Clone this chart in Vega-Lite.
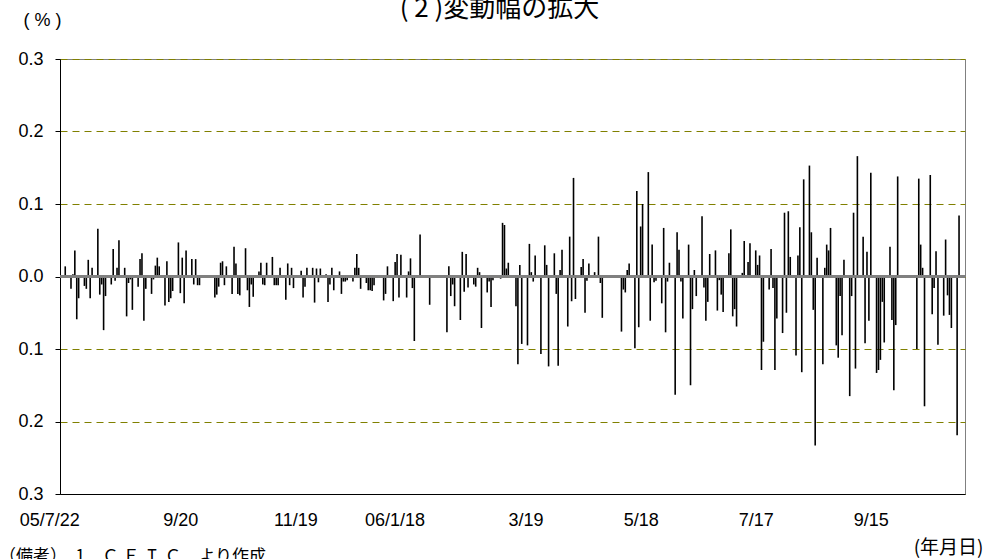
{
  "$schema": "https://vega.github.io/schema/vega-lite/v6.json",
  "width": 905,
  "height": 435,
  "autosize": {"type": "none"},
  "padding": {"left": 60, "top": 59, "right": 26, "bottom": 65},
  "background": "white",
  "config": {
    "view": {"stroke": "#808080", "strokeWidth": 1},
    "font": "Liberation Sans"
  },
  "title": {
    "text": "( 2 )変動幅の拡大",
    "font": "Noto Sans CJK JP",
    "fontSize": 26,
    "fontWeight": "normal",
    "color": "black",
    "anchor": "middle",
    "offset": -11,
    "dx": -13
  },
  "data": {
    "values": [
      {"date": "2005-07-22", "value": 0.014},
      {"date": "2005-07-25", "value": -0.017},
      {"date": "2005-07-26", "value": 0.003},
      {"date": "2005-07-27", "value": 0.036},
      {"date": "2005-07-28", "value": -0.059},
      {"date": "2005-07-29", "value": -0.030},
      {"date": "2005-08-01", "value": -0.013},
      {"date": "2005-08-02", "value": -0.017},
      {"date": "2005-08-03", "value": 0.023},
      {"date": "2005-08-04", "value": -0.030},
      {"date": "2005-08-05", "value": 0.012},
      {"date": "2005-08-08", "value": 0.066},
      {"date": "2005-08-09", "value": -0.025},
      {"date": "2005-08-10", "value": -0.011},
      {"date": "2005-08-11", "value": -0.074},
      {"date": "2005-08-12", "value": -0.027},
      {"date": "2005-08-15", "value": -0.011},
      {"date": "2005-08-16", "value": 0.038},
      {"date": "2005-08-17", "value": -0.006},
      {"date": "2005-08-18", "value": 0.012},
      {"date": "2005-08-19", "value": 0.050},
      {"date": "2005-08-22", "value": 0.012},
      {"date": "2005-08-23", "value": -0.055},
      {"date": "2005-08-24", "value": -0.009},
      {"date": "2005-08-25", "value": -0.004},
      {"date": "2005-08-26", "value": -0.046},
      {"date": "2005-08-29", "value": -0.014},
      {"date": "2005-08-30", "value": 0.024},
      {"date": "2005-08-31", "value": 0.032},
      {"date": "2005-09-01", "value": -0.061},
      {"date": "2005-09-02", "value": -0.017},
      {"date": "2005-09-05", "value": -0.024},
      {"date": "2005-09-06", "value": -0.004},
      {"date": "2005-09-07", "value": 0.015},
      {"date": "2005-09-08", "value": 0.026},
      {"date": "2005-09-09", "value": 0.014},
      {"date": "2005-09-12", "value": -0.040},
      {"date": "2005-09-13", "value": 0.021},
      {"date": "2005-09-14", "value": -0.035},
      {"date": "2005-09-15", "value": -0.030},
      {"date": "2005-09-16", "value": -0.020},
      {"date": "2005-09-19", "value": 0.047},
      {"date": "2005-09-20", "value": -0.023},
      {"date": "2005-09-21", "value": 0.026},
      {"date": "2005-09-22", "value": -0.037},
      {"date": "2005-09-23", "value": 0.036},
      {"date": "2005-09-26", "value": 0.024},
      {"date": "2005-09-27", "value": -0.011},
      {"date": "2005-09-28", "value": 0.024},
      {"date": "2005-09-29", "value": -0.012},
      {"date": "2005-09-30", "value": -0.012},
      {"date": "2005-10-08", "value": -0.029},
      {"date": "2005-10-09", "value": -0.025},
      {"date": "2005-10-10", "value": -0.014},
      {"date": "2005-10-11", "value": 0.019},
      {"date": "2005-10-12", "value": 0.021},
      {"date": "2005-10-13", "value": -0.012},
      {"date": "2005-10-14", "value": 0.014},
      {"date": "2005-10-17", "value": -0.024},
      {"date": "2005-10-18", "value": 0.041},
      {"date": "2005-10-19", "value": 0.018},
      {"date": "2005-10-20", "value": -0.024},
      {"date": "2005-10-21", "value": -0.026},
      {"date": "2005-10-24", "value": 0.039},
      {"date": "2005-10-25", "value": -0.019},
      {"date": "2005-10-26", "value": -0.042},
      {"date": "2005-10-27", "value": -0.011},
      {"date": "2005-10-28", "value": -0.028},
      {"date": "2005-10-31", "value": 0.007},
      {"date": "2005-11-01", "value": 0.019},
      {"date": "2005-11-02", "value": -0.011},
      {"date": "2005-11-03", "value": -0.012},
      {"date": "2005-11-04", "value": 0.019},
      {"date": "2005-11-07", "value": 0.027},
      {"date": "2005-11-08", "value": -0.012},
      {"date": "2005-11-09", "value": -0.012},
      {"date": "2005-11-10", "value": -0.012},
      {"date": "2005-11-11", "value": 0.012},
      {"date": "2005-11-14", "value": -0.032},
      {"date": "2005-11-15", "value": 0.018},
      {"date": "2005-11-16", "value": -0.012},
      {"date": "2005-11-17", "value": 0.012},
      {"date": "2005-11-18", "value": -0.016},
      {"date": "2005-11-21", "value": 0.001},
      {"date": "2005-11-22", "value": 0.008},
      {"date": "2005-11-23", "value": -0.029},
      {"date": "2005-11-24", "value": -0.014},
      {"date": "2005-11-25", "value": 0.012},
      {"date": "2005-11-28", "value": 0.012},
      {"date": "2005-11-29", "value": -0.036},
      {"date": "2005-11-30", "value": 0.011},
      {"date": "2005-12-01", "value": -0.008},
      {"date": "2005-12-02", "value": 0.011},
      {"date": "2005-12-05", "value": 0.003},
      {"date": "2005-12-06", "value": -0.035},
      {"date": "2005-12-07", "value": -0.011},
      {"date": "2005-12-08", "value": 0.012},
      {"date": "2005-12-09", "value": -0.019},
      {"date": "2005-12-12", "value": 0.007},
      {"date": "2005-12-13", "value": -0.024},
      {"date": "2005-12-14", "value": -0.007},
      {"date": "2005-12-15", "value": -0.007},
      {"date": "2005-12-16", "value": -0.005},
      {"date": "2005-12-19", "value": -0.007},
      {"date": "2005-12-20", "value": 0.012},
      {"date": "2005-12-21", "value": 0.031},
      {"date": "2005-12-22", "value": 0.012},
      {"date": "2005-12-23", "value": -0.017},
      {"date": "2005-12-26", "value": -0.009},
      {"date": "2005-12-27", "value": -0.019},
      {"date": "2005-12-28", "value": -0.019},
      {"date": "2005-12-29", "value": -0.020},
      {"date": "2005-12-30", "value": -0.012},
      {"date": "2006-01-04", "value": -0.033},
      {"date": "2006-01-05", "value": -0.024},
      {"date": "2006-01-06", "value": 0.014},
      {"date": "2006-01-09", "value": -0.034},
      {"date": "2006-01-10", "value": 0.020},
      {"date": "2006-01-11", "value": 0.031},
      {"date": "2006-01-12", "value": -0.029},
      {"date": "2006-01-13", "value": 0.030},
      {"date": "2006-01-16", "value": -0.029},
      {"date": "2006-01-17", "value": 0.007},
      {"date": "2006-01-18", "value": 0.025},
      {"date": "2006-01-19", "value": -0.016},
      {"date": "2006-01-20", "value": -0.089},
      {"date": "2006-01-23", "value": 0.058},
      {"date": "2006-01-28", "value": -0.039},
      {"date": "2006-02-06", "value": -0.077},
      {"date": "2006-02-07", "value": 0.014},
      {"date": "2006-02-08", "value": -0.027},
      {"date": "2006-02-09", "value": -0.011},
      {"date": "2006-02-10", "value": -0.041},
      {"date": "2006-02-13", "value": -0.060},
      {"date": "2006-02-14", "value": 0.034},
      {"date": "2006-02-15", "value": -0.021},
      {"date": "2006-02-16", "value": 0.031},
      {"date": "2006-02-17", "value": -0.015},
      {"date": "2006-02-20", "value": -0.011},
      {"date": "2006-02-21", "value": -0.014},
      {"date": "2006-02-22", "value": 0.012},
      {"date": "2006-02-23", "value": 0.006},
      {"date": "2006-02-24", "value": -0.071},
      {"date": "2006-02-27", "value": -0.022},
      {"date": "2006-02-28", "value": -0.007},
      {"date": "2006-03-01", "value": -0.042},
      {"date": "2006-03-02", "value": -0.005},
      {"date": "2006-03-03", "value": 0.001},
      {"date": "2006-03-06", "value": -0.003},
      {"date": "2006-03-07", "value": 0.074},
      {"date": "2006-03-08", "value": 0.071},
      {"date": "2006-03-09", "value": 0.011},
      {"date": "2006-03-10", "value": 0.019},
      {"date": "2006-03-14", "value": -0.041},
      {"date": "2006-03-15", "value": -0.121},
      {"date": "2006-03-16", "value": 0.016},
      {"date": "2006-03-17", "value": -0.093},
      {"date": "2006-03-20", "value": -0.095},
      {"date": "2006-03-21", "value": 0.045},
      {"date": "2006-03-22", "value": 0.006},
      {"date": "2006-03-23", "value": -0.007},
      {"date": "2006-03-24", "value": 0.029},
      {"date": "2006-03-27", "value": -0.107},
      {"date": "2006-03-29", "value": 0.043},
      {"date": "2006-03-30", "value": 0.016},
      {"date": "2006-03-31", "value": -0.124},
      {"date": "2006-04-03", "value": 0.032},
      {"date": "2006-04-04", "value": -0.024},
      {"date": "2006-04-05", "value": -0.123},
      {"date": "2006-04-06", "value": 0.009},
      {"date": "2006-04-07", "value": 0.037},
      {"date": "2006-04-10", "value": -0.069},
      {"date": "2006-04-11", "value": 0.055},
      {"date": "2006-04-12", "value": -0.034},
      {"date": "2006-04-13", "value": 0.136},
      {"date": "2006-04-14", "value": -0.031},
      {"date": "2006-04-17", "value": 0.013},
      {"date": "2006-04-18", "value": 0.024},
      {"date": "2006-04-19", "value": -0.050},
      {"date": "2006-04-20", "value": -0.006},
      {"date": "2006-04-21", "value": 0.018},
      {"date": "2006-04-24", "value": 0.006},
      {"date": "2006-04-25", "value": -0.002},
      {"date": "2006-04-26", "value": 0.055},
      {"date": "2006-04-27", "value": -0.009},
      {"date": "2006-04-28", "value": -0.057},
      {"date": "2006-05-08", "value": -0.076},
      {"date": "2006-05-09", "value": -0.018},
      {"date": "2006-05-10", "value": -0.022},
      {"date": "2006-05-11", "value": 0.009},
      {"date": "2006-05-12", "value": 0.018},
      {"date": "2006-05-15", "value": -0.099},
      {"date": "2006-05-16", "value": 0.118},
      {"date": "2006-05-17", "value": -0.070},
      {"date": "2006-05-18", "value": 0.069},
      {"date": "2006-05-19", "value": 0.100},
      {"date": "2006-05-22", "value": 0.144},
      {"date": "2006-05-23", "value": -0.061},
      {"date": "2006-05-24", "value": 0.044},
      {"date": "2006-05-25", "value": -0.008},
      {"date": "2006-05-26", "value": -0.006},
      {"date": "2006-05-29", "value": -0.037},
      {"date": "2006-05-30", "value": 0.067},
      {"date": "2006-05-31", "value": -0.077},
      {"date": "2006-06-01", "value": -0.007},
      {"date": "2006-06-02", "value": 0.019},
      {"date": "2006-06-05", "value": -0.163},
      {"date": "2006-06-06", "value": 0.061},
      {"date": "2006-06-07", "value": 0.037},
      {"date": "2006-06-08", "value": -0.007},
      {"date": "2006-06-09", "value": -0.058},
      {"date": "2006-06-12", "value": 0.044},
      {"date": "2006-06-13", "value": -0.150},
      {"date": "2006-06-14", "value": -0.045},
      {"date": "2006-06-15", "value": 0.009},
      {"date": "2006-06-16", "value": -0.027},
      {"date": "2006-06-19", "value": 0.083},
      {"date": "2006-06-20", "value": -0.015},
      {"date": "2006-06-21", "value": -0.061},
      {"date": "2006-06-22", "value": -0.035},
      {"date": "2006-06-23", "value": 0.031},
      {"date": "2006-06-26", "value": 0.036},
      {"date": "2006-06-27", "value": -0.047},
      {"date": "2006-06-28", "value": -0.005},
      {"date": "2006-06-29", "value": -0.025},
      {"date": "2006-06-30", "value": -0.049},
      {"date": "2006-07-03", "value": 0.032},
      {"date": "2006-07-04", "value": 0.065},
      {"date": "2006-07-05", "value": -0.055},
      {"date": "2006-07-06", "value": -0.045},
      {"date": "2006-07-07", "value": -0.069},
      {"date": "2006-07-10", "value": 0.005},
      {"date": "2006-07-11", "value": 0.049},
      {"date": "2006-07-12", "value": 0.002},
      {"date": "2006-07-13", "value": 0.020},
      {"date": "2006-07-14", "value": 0.046},
      {"date": "2006-07-17", "value": 0.036},
      {"date": "2006-07-18", "value": 0.016},
      {"date": "2006-07-19", "value": 0.029},
      {"date": "2006-07-20", "value": -0.129},
      {"date": "2006-07-21", "value": -0.090},
      {"date": "2006-07-24", "value": -0.018},
      {"date": "2006-07-25", "value": 0.038},
      {"date": "2006-07-26", "value": -0.016},
      {"date": "2006-07-27", "value": -0.129},
      {"date": "2006-07-28", "value": -0.058},
      {"date": "2006-07-31", "value": -0.078},
      {"date": "2006-08-01", "value": 0.088},
      {"date": "2006-08-02", "value": -0.050},
      {"date": "2006-08-03", "value": 0.090},
      {"date": "2006-08-04", "value": 0.027},
      {"date": "2006-08-07", "value": -0.109},
      {"date": "2006-08-08", "value": 0.029},
      {"date": "2006-08-09", "value": 0.068},
      {"date": "2006-08-10", "value": -0.132},
      {"date": "2006-08-11", "value": 0.134},
      {"date": "2006-08-14", "value": 0.153},
      {"date": "2006-08-15", "value": 0.061},
      {"date": "2006-08-16", "value": -0.046},
      {"date": "2006-08-17", "value": -0.233},
      {"date": "2006-08-18", "value": 0.026},
      {"date": "2006-08-21", "value": -0.121},
      {"date": "2006-08-22", "value": 0.012},
      {"date": "2006-08-23", "value": 0.044},
      {"date": "2006-08-24", "value": 0.036},
      {"date": "2006-08-25", "value": 0.067},
      {"date": "2006-08-28", "value": -0.095},
      {"date": "2006-08-29", "value": -0.112},
      {"date": "2006-08-30", "value": -0.027},
      {"date": "2006-08-31", "value": -0.081},
      {"date": "2006-09-01", "value": 0.023},
      {"date": "2006-09-04", "value": -0.165},
      {"date": "2006-09-05", "value": -0.027},
      {"date": "2006-09-06", "value": 0.088},
      {"date": "2006-09-07", "value": -0.127},
      {"date": "2006-09-08", "value": 0.166},
      {"date": "2006-09-11", "value": 0.055},
      {"date": "2006-09-12", "value": -0.092},
      {"date": "2006-09-13", "value": 0.034},
      {"date": "2006-09-14", "value": -0.061},
      {"date": "2006-09-15", "value": 0.143},
      {"date": "2006-09-18", "value": -0.133},
      {"date": "2006-09-19", "value": -0.129},
      {"date": "2006-09-20", "value": -0.115},
      {"date": "2006-09-21", "value": -0.035},
      {"date": "2006-09-22", "value": -0.091},
      {"date": "2006-09-25", "value": 0.041},
      {"date": "2006-09-26", "value": -0.060},
      {"date": "2006-09-27", "value": -0.157},
      {"date": "2006-09-28", "value": -0.067},
      {"date": "2006-09-29", "value": 0.138},
      {"date": "2006-10-09", "value": -0.100},
      {"date": "2006-10-10", "value": 0.135},
      {"date": "2006-10-11", "value": 0.044},
      {"date": "2006-10-12", "value": 0.012},
      {"date": "2006-10-13", "value": -0.179},
      {"date": "2006-10-16", "value": 0.140},
      {"date": "2006-10-17", "value": -0.052},
      {"date": "2006-10-18", "value": -0.016},
      {"date": "2006-10-19", "value": 0.035},
      {"date": "2006-10-20", "value": -0.094},
      {"date": "2006-10-23", "value": -0.054},
      {"date": "2006-10-24", "value": 0.051},
      {"date": "2006-10-25", "value": -0.026},
      {"date": "2006-10-26", "value": -0.053},
      {"date": "2006-10-27", "value": -0.071},
      {"date": "2006-10-30", "value": -0.219},
      {"date": "2006-10-31", "value": 0.084}
    ]
  },
  "layer": [
    {
      "mark": {"type": "bar", "width": 1.6, "color": "black"},
      "encoding": {
        "x": {
          "field": "date",
          "type": "temporal",
          "scale": {
            "type": "utc",
            "domain": [
              {"year": 2005, "month": 7, "date": 21, "hours": 21, "utc": true},
              {"year": 2006, "month": 10, "date": 31, "hours": 12, "utc": true}
            ]
          },
          "axis": {
            "title": "(年月日)",
            "titleFont": "Noto Sans CJK JP",
            "titleFontSize": 19,
            "titleFontWeight": "normal",
            "titleColor": "black",
            "titleAlign": "right",
            "titleBaseline": "middle",
            "titleX": 923,
            "titleY": 53,
            "values": [
              {"year": 2005, "month": 7, "date": 22, "utc": true},
              {"year": 2005, "month": 9, "date": 20, "utc": true},
              {"year": 2005, "month": 11, "date": 19, "utc": true},
              {"year": 2006, "month": 1, "date": 18, "utc": true},
              {"year": 2006, "month": 3, "date": 19, "utc": true},
              {"year": 2006, "month": 5, "date": 18, "utc": true},
              {"year": 2006, "month": 7, "date": 17, "utc": true},
              {"year": 2006, "month": 9, "date": 15, "utc": true}
            ],
            "labelExpr": "utcyear(datum.value) == 2005 && utcmonth(datum.value) == 6 ? '05/7/22' : (utcmonth(datum.value) == 0 ? '06/1/18' : utcFormat(datum.value, '%-m/%-d'))",
            "labelOffset": {"condition": {"test": "(utcyear(datum.value) == 2005 && utcmonth(datum.value) == 6) || utcmonth(datum.value) == 0", "value": -16}, "value": 0},
            "labelFont": "Liberation Sans",
            "labelFontSize": 18,
            "labelColor": "black",
            "labelPadding": 17,
            "labelFlush": false,
            "labelOverlap": false,
            "labelBound": false,
            "ticks": false,
            "tickSize": 0,
            "grid": false,
            "domainColor": "black",
            "domainWidth": 1
          }
        },
        "y": {
          "field": "value",
          "type": "quantitative",
          "scale": {"domain": [-0.3, 0.3], "nice": false, "zero": true},
          "axis": {
            "title": "( % )",
            "titleFont": "Liberation Sans",
            "titleFontSize": 18,
            "titleFontWeight": "normal",
            "titleColor": "black",
            "titleAngle": 0,
            "titleAlign": "center",
            "titleBaseline": "middle",
            "titleX": -18,
            "titleY": -39,
            "values": [-0.3, -0.2, -0.1, 0, 0.1, 0.2, 0.3],
            "labelExpr": "format(abs(datum.value), '.1f')",
            "labelFont": "Liberation Sans",
            "labelFontSize": 18,
            "labelColor": "black",
            "labelPadding": 12,
            "labelFlush": false,
            "labelOverlap": false,
            "tickSize": 5,
            "tickColor": "black",
            "domainColor": "black",
            "domainWidth": 1,
            "grid": true,
            "gridColor": "#808000",
            "gridDash": [7, 5],
            "gridWidth": 1
          }
        }
      }
    },
    {
      "mark": {"type": "rule", "color": "#808080", "strokeWidth": 1.3},
      "encoding": {"y": {"datum": 0}}
    },
    {
      "data": {"values": [{"note": "（備考）　1．Ｃ Ｅ Ｉ Ｃ　より作成．"}]},
      "mark": {
        "type": "text",
        "font": "Noto Sans CJK JP",
        "fontSize": 17,
        "align": "left",
        "baseline": "middle",
        "color": "black",
        "clip": false
      },
      "encoding": {
        "text": {"field": "note", "type": "nominal"},
        "x": {"datum": {"year": 2005, "month": 6, "date": 17, "hours": 12, "utc": true}, "type": "temporal"},
        "y": {"datum": -0.387, "type": "quantitative"}
      }
    }
  ]
}
